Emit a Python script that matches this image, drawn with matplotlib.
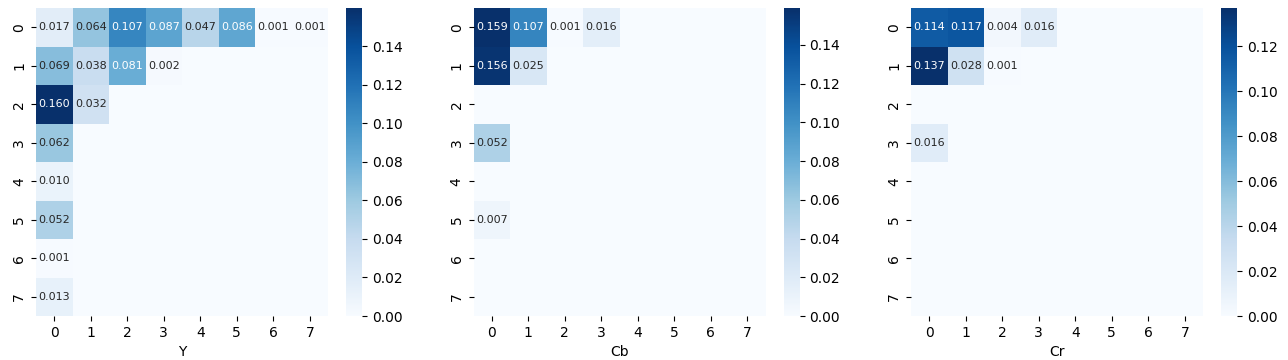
import matplotlib
matplotlib.use("Agg")
import matplotlib.pyplot as plt
import numpy as np
import seaborn as sns

# Non-zero cells, everything else is 0
y_vals = np.zeros((8, 8))
y_vals[0, :] = [0.017, 0.064, 0.107, 0.087, 0.047, 0.086, 0.001, 0.001]
y_vals[1, :4] = [0.069, 0.038, 0.081, 0.002]
y_vals[2, :2] = [0.1598, 0.032]
y_vals[3:, 0] = [0.062, 0.010, 0.052, 0.001, 0.013]

cb_vals = np.zeros((8, 8))
cb_vals[0, :4] = [0.159, 0.107, 0.001, 0.016]
cb_vals[1, :2] = [0.156, 0.025]
cb_vals[3, 0] = 0.052
cb_vals[5, 0] = 0.007

cr_vals = np.zeros((8, 8))
cr_vals[0, :4] = [0.114, 0.117, 0.004, 0.016]
cr_vals[1, :3] = [0.137, 0.028, 0.001]
cr_vals[3, 0] = 0.016

channels = ["Y", "Cb", "Cr"]
tables = [y_vals, cb_vals, cr_vals]


def labels(m):
    # hide annotations of empty cells
    return np.where(m > 0, np.vectorize(lambda v: "%.3f" % v)(m), "")


W, H = 1288, 360
fig = plt.figure(figsize=(W / 100, H / 100), dpi=100)
bottom, top = 44 / H, 352 / H
for i, (name, m) in enumerate(zip(channels, tables)):
    x0 = 36 + 437.5 * i
    ax = fig.add_axes([x0 / W, bottom, 292 / W, top - bottom])
    cax = fig.add_axes([(x0 + 310) / W, bottom, 16 / W, top - bottom])
    sns.heatmap(m, ax=ax, cbar_ax=cax, cmap="Blues", annot=labels(m), fmt="",
                annot_kws={"size": 8})
    ax.set_xlabel(name)

plt.savefig("out.png", dpi=100)
